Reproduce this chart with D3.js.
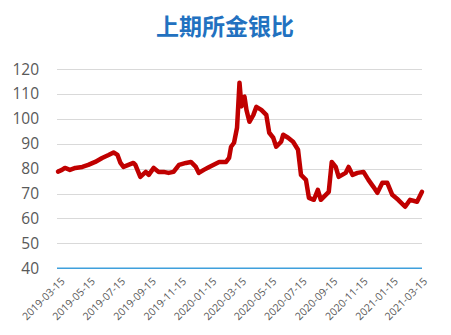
<!DOCTYPE html>
<html>
<head>
<meta charset="utf-8">
<script src="https://cdn.jsdelivr.net/npm/d3@7"></script>
<style>
  body { margin: 0; background: #fff; }
  svg { display: block; }
</style>
</head>
<body>
<svg id="chart"></svg>
<script>
// ── Data ──
const dates = [
  '2019-03-15','2019-03-23','2019-03-29','2019-04-08','2019-04-19','2019-05-03','2019-05-15','2019-05-29',
  '2019-06-12','2019-06-25','2019-07-05','2019-07-13','2019-07-19','2019-07-25','2019-08-04','2019-08-14',
  '2019-08-18','2019-08-28','2019-09-08','2019-09-14','2019-09-24','2019-10-04','2019-10-14','2019-10-24',
  '2019-11-03','2019-11-14','2019-11-28','2019-12-08','2019-12-18','2019-12-24','2020-01-03','2020-01-14',
  '2020-01-22','2020-02-03','2020-02-17','2020-02-23','2020-02-27','2020-03-04','2020-03-10','2020-03-15',
  '2020-03-19','2020-03-21','2020-03-25','2020-03-29','2020-04-04','2020-04-12','2020-04-18','2020-04-28',
  '2020-05-08','2020-05-14','2020-05-22','2020-05-28','2020-06-07','2020-06-11','2020-06-21','2020-07-01',
  '2020-07-11','2020-07-17','2020-07-27','2020-08-02','2020-08-12','2020-08-20','2020-08-26','2020-09-05',
  '2020-09-11','2020-09-17','2020-09-25','2020-10-01','2020-10-15','2020-10-21','2020-10-29','2020-11-08',
  '2020-11-20','2020-11-30','2020-12-10','2020-12-18','2020-12-28','2021-01-07','2021-01-17','2021-01-29',
  '2021-02-12','2021-02-22','2021-03-08','2021-03-18'
];
const ratio = [
  78.8, 79.5, 80.3, 79.5, 80.3, 80.7, 81.5, 82.7,
  84.3, 85.5, 86.5, 85.5, 82.3, 80.7, 81.5, 82.3,
  81.5, 76.7, 78.7, 77.5, 80.3, 78.7, 78.7, 78.3,
  78.7, 81.5, 82.3, 82.7, 80.7, 78.3, 79.5, 80.7,
  81.5, 82.7, 82.7, 84.3, 88.8, 90.4, 96.4, 114.5,
  105.0, 108.5, 108.9, 103.6, 98.8, 101.6, 104.8, 103.6,
  101.6, 94.4, 92.4, 88.8, 90.8, 93.6, 92.4, 90.8,
  87.6, 77.5, 75.5, 68.3, 67.5, 71.5, 67.5, 69.5,
  70.7, 82.7, 80.7, 76.7, 78.3, 80.7, 77.5, 78.3,
  78.7, 75.5, 72.7, 70.3, 74.3, 74.3, 69.5, 67.5,
  64.7, 67.5, 66.7, 70.7
];
const xTickLabels = [
  '2019-03-15','2019-05-15','2019-07-15','2019-09-15','2019-11-15','2020-01-15','2020-03-15',
  '2020-05-15','2020-07-15','2020-09-15','2020-11-15','2021-01-15','2021-03-15'
];
const yTicks = [40, 50, 60, 70, 80, 90, 100, 110, 120];
const title = '上期所金银比';

// ── Setup ──
const W = 451, H = 335;
const m = { top: 69, right: 29, bottom: 67, left: 58 };
const svg = d3.select('#chart').attr('width', W).attr('height', H);
const parse = d3.timeParse('%Y-%m-%d');
const data = dates.map((d, i) => ({ d: parse(d), v: ratio[i] }));

const x = d3.scaleTime()
  .domain([parse('2019-03-15'), parse('2021-03-18')])
  .range([m.left, W - m.right]);
const y = d3.scaleLinear().domain([40, 120]).range([H - m.bottom + 0.3, m.top]);

// ── Title ──
svg.append('text')
  .attr('x', 225).attr('y', 35)
  .attr('text-anchor', 'middle')
  .attr('font-family', '"Noto Sans CJK SC", sans-serif')
  .attr('font-size', '23px').attr('font-weight', '700')
  .attr('fill', '#2271c0')
  .text(title);

// ── Grid ──
svg.append('g').selectAll('line').data(yTicks.filter(t => t > 40)).enter().append('line')
  .attr('x1', m.left - 1).attr('x2', W - m.right)
  .attr('y1', d => Math.round(y(d)) + 0.5).attr('y2', d => Math.round(y(d)) + 0.5)
  .attr('stroke', '#d9d9d9').attr('stroke-width', 1);

// ── Y labels ──
svg.append('g').selectAll('text').data(yTicks).enter().append('text')
  .attr('x', 39).attr('y', d => y(d)).attr('dy', '0.36em')
  .attr('text-anchor', 'end')
  .attr('font-family', '"Open Sans", sans-serif').attr('font-size', '15.5px')
  .attr('fill', '#595959')
  .text(d => d);

// ── Line ──
const line = d3.line().x(d => x(d.d)).y(d => y(d.v));
svg.append('path').datum(data)
  .attr('fill', 'none').attr('stroke', '#c00000')
  .attr('stroke-width', 4.5).attr('stroke-linejoin', 'round').attr('stroke-linecap', 'round')
  .attr('d', line);

// ── X axis (baseline at 40) ──
svg.append('line')
  .attr('x1', m.left - 1).attr('x2', W - m.right)
  .attr('y1', y(40)).attr('y2', y(40))
  .attr('stroke', '#3fa0dc').attr('stroke-width', 1.5);

svg.append('g').selectAll('text').data(xTickLabels).enter().append('text')
  .attr('transform', d => `translate(${x(parse(d)) + 5},${y(40) + 11}) rotate(-45)`)
  .attr('text-anchor', 'end').attr('dy', '0.35em')
  .attr('font-family', '"Open Sans", sans-serif').attr('font-size', '10.5px')
  .attr('fill', '#595959')
  .text(d => d);
</script>
</body>
</html>
